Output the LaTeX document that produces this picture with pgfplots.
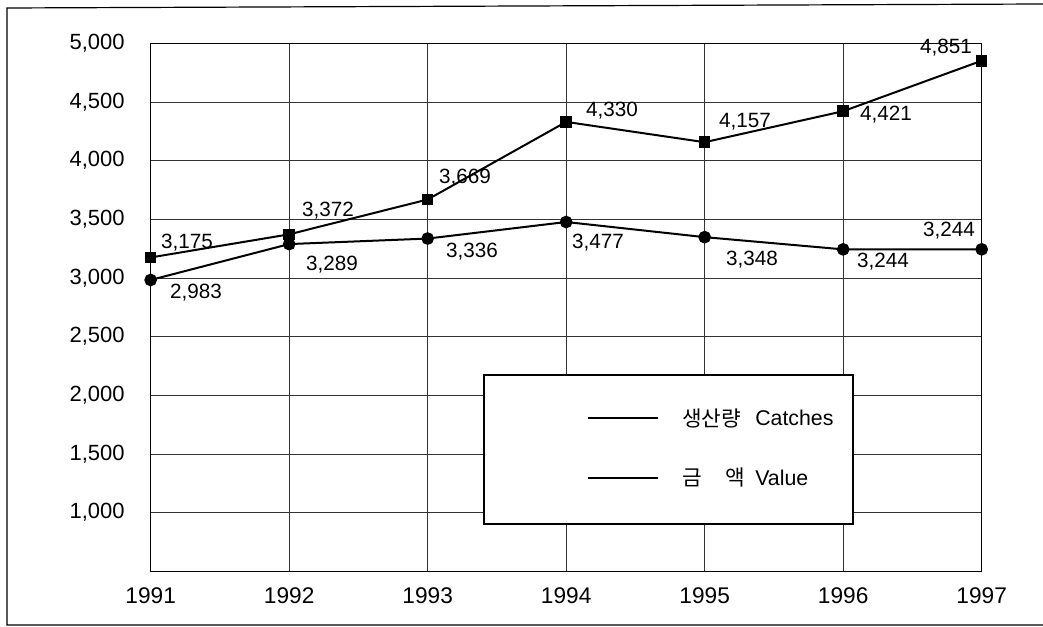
\documentclass[border=0pt]{standalone}
\usepackage{fontspec}
\setmainfont{Liberation Sans}
\newfontfamily\kr{Noto Sans CJK KR}
\usepackage{pgfplots}
\pgfplotsset{compat=1.18}

\begin{document}
\begin{tikzpicture}[x=0.75pt,y=-0.75pt]
\path[use as bounding box] (0,0) rectangle (1043,627);
% page frame (open on the right, as in the scan)
\draw[line width=0.9pt] (1043,4) -- (7,8) -- (7,625) -- (1043,625);

\begin{axis}[
    at={(113.0pt,-428.55pt)}, anchor=south west,
    scale only axis,
    width=623.25pt, height=396.1pt,
    xmin=1991, xmax=1997,
    ymin=500, ymax=5000,
    xtick={1991,1992,1993,1994,1995,1996,1997},
    ytick={1000,1500,2000,2500,3000,3500,4000,4500,5000},
    grid=major,
    major grid style={line width=0.5pt, draw=black!80},
    axis line style={line width=0.9pt},
    major tick length=0pt,
    /pgf/number format/assume math mode=true,
    yticklabel style={font=\fontsize{16.5}{18}\selectfont, xshift=-16pt,
        /pgf/number format/1000 sep={,}},
    xticklabel style={font=\fontsize{17}{19}\selectfont, yshift=-9pt,
        /pgf/number format/1000 sep={}},
]
% 생산량 Catches
\addplot[black, line width=1.5pt, mark=square*, mark size=3.6pt] coordinates {
    (1991,3175) (1992,3372) (1993,3669) (1994,4330)
    (1995,4157) (1996,4421) (1997,4851)
};
% 금액 Value
\addplot[black, line width=1.5pt, mark=*, mark size=4pt] coordinates {
    (1991,2983) (1992,3289) (1993,3336) (1994,3477)
    (1995,3348) (1996,3244) (1997,3244)
};
\end{axis}

% value labels
\begin{scope}[every node/.style={font=\fontsize{15.5}{17}\selectfont, inner sep=0pt}]
\node at (187,243) {3,175};
\node at (328,211) {3,372};
\node at (465,178) {3,669};
\node at (612,111) {4,330};
\node at (745,122) {4,157};
\node at (886,115) {4,421};
\node at (946,48)  {4,851};
\node at (196,293) {2,983};
\node at (332,265) {3,289};
\node at (472,252) {3,336};
\node at (598,243) {3,477};
\node at (752,260) {3,348};
\node at (883,262) {3,244};
\node at (949,231) {3,244};
\end{scope}

% legend
\draw[line width=0.8pt, fill=white] (484,375) rectangle (853,524);
\draw[line width=1.8pt] (588,418) -- (658,418);
\draw[line width=1.8pt] (588,478) -- (658,478);
\begin{scope}[every node/.style={inner sep=0pt, anchor=west}]
\node at (682,418) {\kr\fontsize{16}{18}\selectfont 생산량};
\node at (755,418) {\fontsize{16}{18}\selectfont Catches};
\node at (682,478) {\kr\fontsize{16}{18}\selectfont 금};
\node at (725,478) {\kr\fontsize{16}{18}\selectfont 액};
\node at (755,478) {\fontsize{16}{18}\selectfont Value};
\end{scope}
\end{tikzpicture}
\end{document}
